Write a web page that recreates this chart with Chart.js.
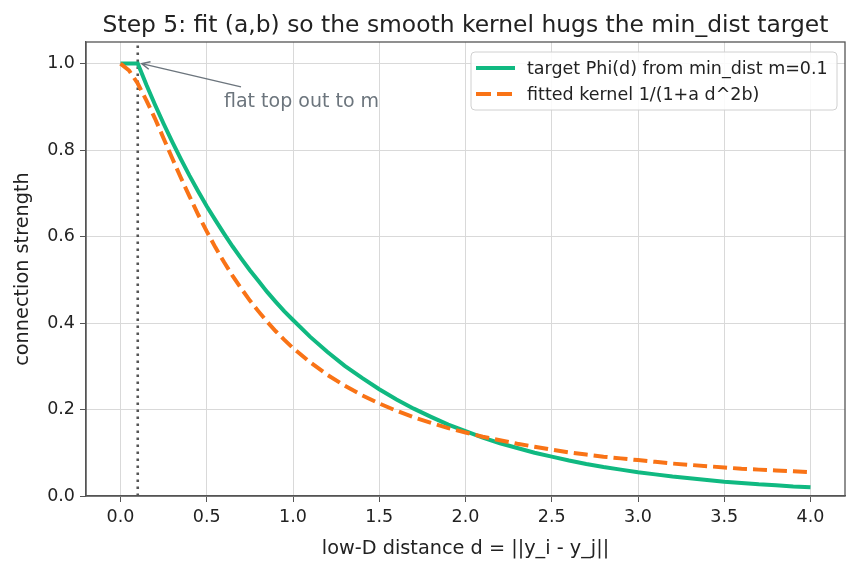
<!DOCTYPE html>
<html>
<head>
<meta charset="utf-8">
<script src="https://cdn.jsdelivr.net/npm/chart.js@4.4.1/dist/chart.umd.min.js"></script>
<style>
  body { margin: 0; background: #fff; }
  #chart { display: block; }
</style>
</head>
<body>
<canvas id="chart" width="858" height="570"></canvas>
<script>
// distances d along the x axis
const distances = [0, 0.05, 0.1, 0.15, 0.2, 0.25, 0.3, 0.35, 0.4, 0.45, 0.5, 0.55, 0.6, 0.65,
    0.7, 0.75, 0.8, 0.85, 0.9, 0.95, 1.0,
    1.1, 1.2, 1.3, 1.4, 1.5, 1.6, 1.7, 1.8, 1.9, 2.0, 2.1, 2.2, 2.3, 2.4, 2.5,
    2.6, 2.7, 2.8, 2.9, 3.0, 3.1, 3.2, 3.3, 3.4, 3.5, 3.6, 3.7, 3.8, 3.9, 4.0];

// target Phi(d)
const targetPhi = [1.0, 1.0, 1.0, 0.951, 0.905, 0.861, 0.819, 0.779, 0.741, 0.705, 0.670, 0.638, 0.607, 0.577,
    0.549, 0.522, 0.497, 0.472, 0.449, 0.427, 0.407,
    0.368, 0.333, 0.301, 0.273, 0.247, 0.223, 0.202, 0.183, 0.165, 0.150, 0.135, 0.122, 0.111, 0.100, 0.091,
    0.082, 0.074, 0.067, 0.061, 0.055, 0.050, 0.045, 0.041, 0.037, 0.033, 0.030, 0.027, 0.025, 0.022, 0.020];

// fitted kernel
const fittedKernel = [1.0, 0.984, 0.954, 0.915, 0.873, 0.827, 0.781, 0.736, 0.693, 0.651, 0.612, 0.575, 0.541, 0.509,
    0.480, 0.452, 0.427, 0.403, 0.381, 0.361, 0.342,
    0.309, 0.280, 0.255, 0.233, 0.214, 0.197, 0.182, 0.169, 0.157, 0.147, 0.137, 0.129, 0.121, 0.114, 0.107,
    0.101, 0.096, 0.091, 0.087, 0.083, 0.079, 0.075, 0.072, 0.069, 0.066, 0.063, 0.061, 0.059, 0.057, 0.055];

const seriesNames = ['target Phi(d) from min_dist m=0.1', 'fitted kernel 1/(1+a d^2b)'];
const minDist = 0.1;

const GREEN = '#10b981';
const ORANGE = '#f97316';
const FONT = "'DejaVu Sans', sans-serif";

function toPoints(ys) {
    return distances.map((d, i) => ({x: d, y: ys[i]}));
}

const extras = {
    id: 'extras',
    beforeDatasetsDraw(chart) {
        const {ctx, chartArea: a, scales: {x}} = chart;
        // dotted line at d = min_dist
        const px = x.getPixelForValue(minDist);
        ctx.save();
        ctx.strokeStyle = '#555';
        ctx.lineWidth = 2.6;
        ctx.setLineDash([2.6, 4.4]);
        ctx.beginPath();
        ctx.moveTo(px, a.bottom);
        ctx.lineTo(px, a.top);
        ctx.stroke();
        ctx.restore();
    },
    afterDraw(chart) {
        const {ctx, chartArea: a, scales: {x, y}} = chart;
        ctx.save();
        // frame
        ctx.strokeStyle = '#555';
        ctx.lineWidth = 1.3;
        ctx.strokeRect(a.left, a.top, a.right - a.left, a.bottom - a.top);

        // title
        ctx.fillStyle = '#222';
        ctx.font = '23.4px ' + FONT;
        ctx.textAlign = 'center';
        ctx.textBaseline = 'alphabetic';
        ctx.fillText('Step 5: fit (a,b) so the smooth kernel hugs the min_dist target', (a.left + a.right) / 2, 32);

        // annotation
        const tipX = x.getPixelForValue(minDist) + 4, tipY = y.getPixelForValue(1.0);
        const tx = x.getPixelForValue(0.6), ty = y.getPixelForValue(0.9);
        ctx.strokeStyle = '#6c757d';
        ctx.lineWidth = 1.5;
        ctx.beginPath();
        ctx.moveTo(tx + 17, ty - 20);
        ctx.lineTo(tipX, tipY);
        const ang = Math.atan2(ty - 20 - tipY, tx + 17 - tipX);
        ctx.moveTo(tipX + 9 * Math.cos(ang - 0.45), tipY + 9 * Math.sin(ang - 0.45));
        ctx.lineTo(tipX, tipY);
        ctx.lineTo(tipX + 9 * Math.cos(ang + 0.45), tipY + 9 * Math.sin(ang + 0.45));
        ctx.stroke();
        ctx.fillStyle = '#6c757d';
        ctx.font = '19px ' + FONT;
        ctx.textAlign = 'left';
        ctx.fillText('flat top out to m', tx, ty);

        // legend
        const lx = 471, ly = 52, lw = 366, lh = 58;
        ctx.fillStyle = 'rgba(255,255,255,0.85)';
        ctx.strokeStyle = '#d0d0d0';
        ctx.lineWidth = 1;
        ctx.beginPath();
        ctx.roundRect(lx, ly, lw, lh, 4);
        ctx.fill();
        ctx.stroke();
        const rows = [
            {label: seriesNames[0], color: GREEN, dash: []},
            {label: seriesNames[1], color: ORANGE, dash: [15, 6]}
        ];
        ctx.font = '17.5px ' + FONT;
        ctx.textBaseline = 'middle';
        rows.forEach((r, i) => {
            const cy = 68 + i * 26;
            ctx.strokeStyle = r.color;
            ctx.lineWidth = 4;
            ctx.setLineDash(r.dash);
            ctx.beginPath();
            ctx.moveTo(476, cy);
            ctx.lineTo(515, cy);
            ctx.stroke();
            ctx.setLineDash([]);
            ctx.fillStyle = '#222';
            ctx.fillText(r.label, 527, cy + 1);
        });
        ctx.restore();
    }
};

new Chart(document.getElementById('chart'), {
    type: 'line',
    data: {
        datasets: [
            {
                label: seriesNames[0],
                data: toPoints(targetPhi),
                borderColor: GREEN,
                borderWidth: 4,
                pointRadius: 0,
                tension: 0,
                order: 2
            },
            {
                label: seriesNames[1],
                data: toPoints(fittedKernel),
                borderColor: ORANGE,
                borderWidth: 4,
                borderDash: [14, 6],
                pointRadius: 0,
                tension: 0,
                order: 1
            }
        ]
    },
    options: {
        responsive: false,
        animation: false,
        layout: {padding: {top: 42, right: 13, left: 0, bottom: 0}},
        plugins: {
            legend: {display: false},
            tooltip: {enabled: false},
            title: {display: false}
        },
        scales: {
            x: {
                type: 'linear',
                min: -0.2,
                max: 4.2,
                afterFit: s => { s.height = 74; },
                border: {color: '#555', width: 1.3},
                grid: {color: '#d9d9d9', lineWidth: 1, tickLength: 6, tickColor: '#555'},
                ticks: {
                    stepSize: 0.5,
                    includeBounds: false,
                    padding: 5,
                    color: '#222',
                    font: {family: FONT, size: 17.5},
                    maxRotation: 0,
                    callback: v => v.toFixed(1)
                },
                title: {
                    display: true,
                    text: 'low-D distance d = ||y_i - y_j||',
                    color: '#222',
                    font: {family: FONT, size: 19.3},
                    padding: {top: 0, bottom: 9.5}
                }
            },
            y: {
                min: 0,
                max: 1.05,
                afterFit: s => { s.width = 86; },
                border: {color: '#555', width: 1.3},
                grid: {color: '#d9d9d9', lineWidth: 1, tickLength: 6, tickColor: '#555'},
                ticks: {
                    stepSize: 0.2,
                    includeBounds: false,
                    padding: 5,
                    color: '#222',
                    font: {family: FONT, size: 17.5},
                    callback: v => v.toFixed(1)
                },
                title: {
                    display: true,
                    text: 'connection strength',
                    color: '#222',
                    font: {family: FONT, size: 19.3},
                    padding: {top: 11.4, bottom: 0}
                }
            }
        }
    },
    plugins: [extras]
});
</script>
</body>
</html>
